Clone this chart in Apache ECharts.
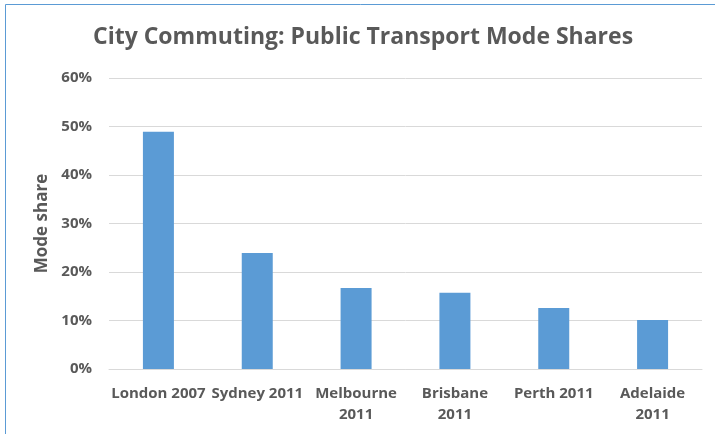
<!DOCTYPE html>
<html>
<head>
<meta charset="utf-8">
<script src="https://cdn.jsdelivr.net/npm/echarts@6/dist/echarts.min.js"></script>
<style>
  html, body { margin: 0; padding: 0; background: #fff; }
  #chart { width: 715px; height: 434px; }
</style>
</head>
<body>
<div id="chart"></div>
<script>
// values
var cities = ['London 2007', 'Sydney 2011', 'Melbourne\n2011', 'Brisbane\n2011', 'Perth 2011', 'Adelaide\n2011'];
var modeShare = [48.9, 23.9, 16.7, 15.7, 12.6, 10.1];
var yTicks = { min: 0, max: 60, step: 10 };

var textGrey = '#595959';
var font = 'Open Sans';

var chart = echarts.init(document.getElementById('chart'));
chart.setOption({
    animation: false,
    title: {
        text: 'City Commuting: Public Transport Mode Shares',
        left: 93,
        top: 26,
        padding: 0,
        textStyle: { fontFamily: font, fontSize: 23, fontWeight: 'bold', color: textGrey }
    },
    graphic: [
        { type: 'line', shape: { x1: 5.5, y1: 4.5, x2: 5.5, y2: 434 }, style: { stroke: '#5b9bd5', lineWidth: 1 } },
        { type: 'line', shape: { x1: 5.5, y1: 4.5, x2: 715, y2: 4.5 }, style: { stroke: '#5b9bd5', lineWidth: 1 } }
    ],
    grid: { left: 109, right: 13, top: 78, bottom: 65 },
    xAxis: {
        type: 'category',
        data: cities,
        axisLine: { lineStyle: { color: '#d9d9d9' } },
        axisTick: { show: false },
        axisLabel: {
            interval: 0, margin: 14, lineHeight: 21,
            fontFamily: font, fontSize: 15, fontWeight: 'bold', color: textGrey
        }
    },
    yAxis: {
        type: 'value',
        min: yTicks.min, max: yTicks.max, interval: yTicks.step,
        name: 'Mode share',
        nameLocation: 'middle',
        nameGap: 53,
        nameTextStyle: { fontFamily: font, fontSize: 17, fontWeight: 'bold', color: textGrey },
        axisLine: { show: false },
        axisTick: { show: false },
        splitLine: { lineStyle: { color: '#d9d9d9' } },
        axisLabel: {
            margin: 17, formatter: '{value}%',
            fontFamily: font, fontSize: 15, fontWeight: 'bold', color: textGrey
        }
    },
    series: [{
        type: 'bar',
        data: modeShare,
        barWidth: 31,
        itemStyle: { color: '#5b9bd5' }
    }]
});
</script>
</body>
</html>
